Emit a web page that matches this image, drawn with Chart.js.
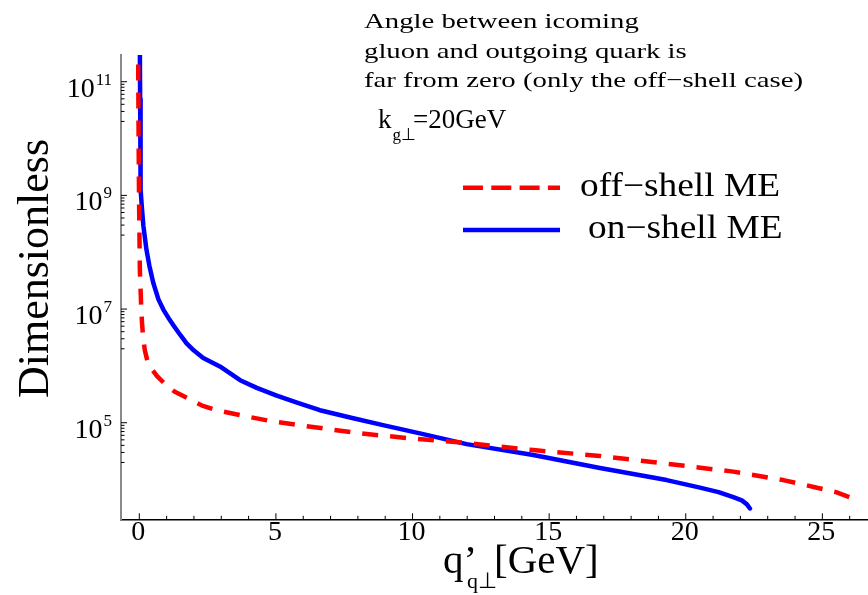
<!DOCTYPE html>
<html>
<head>
<meta charset="utf-8">
<script src="https://cdn.jsdelivr.net/npm/chart.js@4.4.1/dist/chart.umd.min.js"></script>
<style>
  body { margin: 0; background: #fff; }
  #wrap { width: 868px; height: 595px; }
</style>
</head>
<body>
<div id="wrap"><canvas id="chart" width="868" height="595"></canvas></div>
<script>
// off-shell ME (red dashed)
const offX = [-0.04, -0.03, -0.01, 0.02, 0.07, 0.1, 0.14, 0.2, 0.3, 0.45, 0.65, 0.94, 1.3, 1.85, 2.3, 2.83,
  3.93, 4.9, 6.13, 8.08, 10.03, 11.98, 14.42, 16.86, 19.3, 21.74, 23.57, 24.8, 25.5, 26.0];
const offY = [2.0e11, 2.2e10, 8.5e8, 5.0e7, 1.07e7, 5.6e6, 3.2e6, 1.9e6, 1.2e6, 8.9e5, 6.6e5, 4.8e5, 3.5e5, 2.6e5, 2.0e5, 1.66e5,
  1.29e5, 1.05e5, 8.7e4, 6.5e4, 5.25e4, 4.4e4, 3.3e4, 2.6e4, 1.9e4, 1.38e4, 9.8e3, 7.2e3, 6.0e3, 4.9e3];

// on-shell ME (blue solid)
const onX = [0.02, 0.03, 0.04, 0.055, 0.1, 0.15, 0.26, 0.37, 0.51, 0.7, 0.88, 1.1, 1.24, 1.5, 1.73, 2.0, 2.34, 2.95,
  3.69, 4.3, 5.03, 5.8, 6.61, 7.83, 9.0, 10.27, 11.98, 14.42, 16.86, 19.3, 20.52, 21.2, 21.74, 22.05, 22.23, 22.35];
const onY = [4.0e11, 5.0e10, 6.3e9, 1.26e9, 5.6e8, 2.9e8, 1.12e8, 5.75e7, 2.9e7, 1.48e7, 9.8e6, 6.6e6, 5.25e6, 3.5e6, 2.5e6, 1.86e6, 1.38e6, 9.8e5,
  5.6e5, 4.1e5, 3.0e5, 2.24e5, 1.66e5, 1.2e5, 8.9e4, 6.5e4, 4.2e4, 2.7e4, 1.6e4, 9.8e3, 7.2e3, 6.0e3, 4.9e3, 4.3e3, 3.7e3, 3.1e3];

const xMajor = [0, 5, 10, 15, 20, 25];
const xMinor = [1, 2, 3, 4, 6, 7, 8, 9, 11, 12, 13, 14, 16, 17, 18, 19, 21, 22, 23, 24, 26];
const yExp = [5, 7, 9, 11];

const seriesLabels = ['off\u2212shell ME', 'on\u2212shell ME'];
const noteLines = ['Angle between icoming', 'gluon and outgoing quark is', 'far from zero (only the off\u2212shell case)'];

const serif = '"Liberation Serif", "Times New Roman", serif';

function pts(xs, ys) {
  return xs.map((x, i) => ({ x: x, y: ys[i] }));
}

// text with optional horizontal stretch to a target width
function put(ctx, s, x, y, size, width) {
  ctx.font = size + 'px ' + serif;
  ctx.save();
  ctx.translate(x, y);
  if (width) ctx.scale(width / ctx.measureText(s).width, 1);
  ctx.fillText(s, 0, 0);
  ctx.restore();
}

const decor = {
  id: 'decor',
  afterDraw(chart) {
    const ctx = chart.ctx;
    const xs = chart.scales.x, ys = chart.scales.y;
    const left = chart.chartArea.left, bottom = chart.chartArea.bottom;
    ctx.save();
    ctx.fillStyle = '#000';
    ctx.strokeStyle = '#000';
    ctx.lineWidth = 1;
    ctx.textBaseline = 'alphabetic';

    // inward tick marks
    ctx.beginPath();
    xMajor.forEach(v => { const p = xs.getPixelForValue(v); ctx.moveTo(p, bottom); ctx.lineTo(p, bottom - 6); });
    xMinor.forEach(v => { const p = xs.getPixelForValue(v); ctx.moveTo(p, bottom); ctx.lineTo(p, bottom - 3.5); });
    yExp.forEach(e => {
      const m = Math.pow(10, e);
      let p = ys.getPixelForValue(m);
      ctx.moveTo(left, p); ctx.lineTo(left + 6, p);
      for (let k = 2; k <= 9; k++) {
        p = ys.getPixelForValue(k * m / 10);
        ctx.moveTo(left, p); ctx.lineTo(left + 3.5, p);
      }
    });
    ctx.stroke();

    // x tick labels
    ctx.textAlign = 'center';
    xMajor.forEach(v => put(ctx, String(v), xs.getPixelForValue(v) - 1, 539.5, 28));

    // y tick labels 10^n
    ctx.textAlign = 'left';
    yExp.forEach(e => {
      const p = ys.getPixelForValue(Math.pow(10, e)) + 15;
      ctx.font = '28px ' + serif;
      const w = ctx.measureText('10').width;
      const sup = String(e);
      ctx.font = '17px ' + serif;
      const ws = ctx.measureText(sup).width;
      const x0 = 111 - w - ws;
      put(ctx, '10', x0, p, 28);
      put(ctx, sup, x0 + w + 1, p - 12, 17);
    });

    // axis titles
    ctx.save();
    ctx.translate(48, 268.5);
    ctx.rotate(-Math.PI / 2);
    ctx.textAlign = 'center';
    ctx.font = '44px ' + serif;
    ctx.fillText('Dimensionless', 0, 0);
    ctx.restore();

    ctx.textAlign = 'left';
    put(ctx, 'q\u2019', 443, 573, 41);
    put(ctx, 'q\u22A5', 467, 588, 22);
    put(ctx, '[GeV]', 494, 573, 41);

    // note text
    ctx.font = '22px ' + serif;
    const sx = 439 / ctx.measureText(noteLines[2]).width;
    noteLines.forEach((s, i) => {
      ctx.font = '22px ' + serif;
      put(ctx, s, 364, 28.3 + i * 29.2, 22, ctx.measureText(s).width * sx);
    });
    put(ctx, 'k', 378, 128.3, 27);
    put(ctx, 'g\u22A5', 392.5, 140, 17);
    put(ctx, '=20GeV', 413, 128.3, 27);

    // legend
    const rows = [187.7, 230];
    const textX = [580, 588];
    ctx.font = '33px ' + serif;
    const lx = 200 / ctx.measureText(seriesLabels[0]).width;
    chart.data.datasets.forEach((ds, i) => {
      ctx.save();
      ctx.strokeStyle = ds.borderColor;
      ctx.lineWidth = 4.5;
      ctx.setLineDash(ds.borderDash.length ? [20, 8.3] : []);
      ctx.beginPath();
      ctx.moveTo(463, rows[i]);
      ctx.lineTo(560, rows[i]);
      ctx.stroke();
      ctx.restore();
      ctx.font = '33px ' + serif;
      put(ctx, ds.label, textX[i], rows[i] + 8, 33, ctx.measureText(ds.label).width * lx);
    });
    ctx.restore();
  }
};

new Chart(document.getElementById('chart'), {
  type: 'line',
  data: {
    datasets: [{
      label: seriesLabels[0],
      data: pts(offX, offY),
      borderColor: '#ff0000',
      borderWidth: 4.5,
      borderDash: [16, 12],
      borderJoinStyle: 'round',
      pointRadius: 0,
      tension: 0,
      fill: false
    }, {
      label: seriesLabels[1],
      data: pts(onX, onY),
      borderColor: '#0000ff',
      borderWidth: 4.5,
      borderDash: [],
      borderJoinStyle: 'round',
      borderCapStyle: 'round',
      pointRadius: 0,
      tension: 0,
      fill: false
    }]
  },
  options: {
    responsive: false,
    devicePixelRatio: 1,
    animation: false,
    events: [],
    layout: { padding: { top: 55, right: 0, left: 0, bottom: 0 } },
    plugins: { legend: { display: false }, tooltip: { enabled: false } },
    scales: {
      x: {
        type: 'linear',
        min: -0.67,
        max: 26.67,
        ticks: { display: false },
        grid: { drawOnChartArea: false, drawTicks: false },
        border: { color: '#000', width: 1.6 },
        afterFit: s => { s.height = 75.7; }
      },
      y: {
        type: 'logarithmic',
        min: 2000,
        max: 2.95e11,
        ticks: { display: false },
        grid: { drawOnChartArea: false, drawTicks: false },
        border: { color: '#8a8a8a', width: 2 },
        afterFit: s => { s.width = 121; }
      }
    }
  },
  plugins: [decor]
});
</script>
</body>
</html>
